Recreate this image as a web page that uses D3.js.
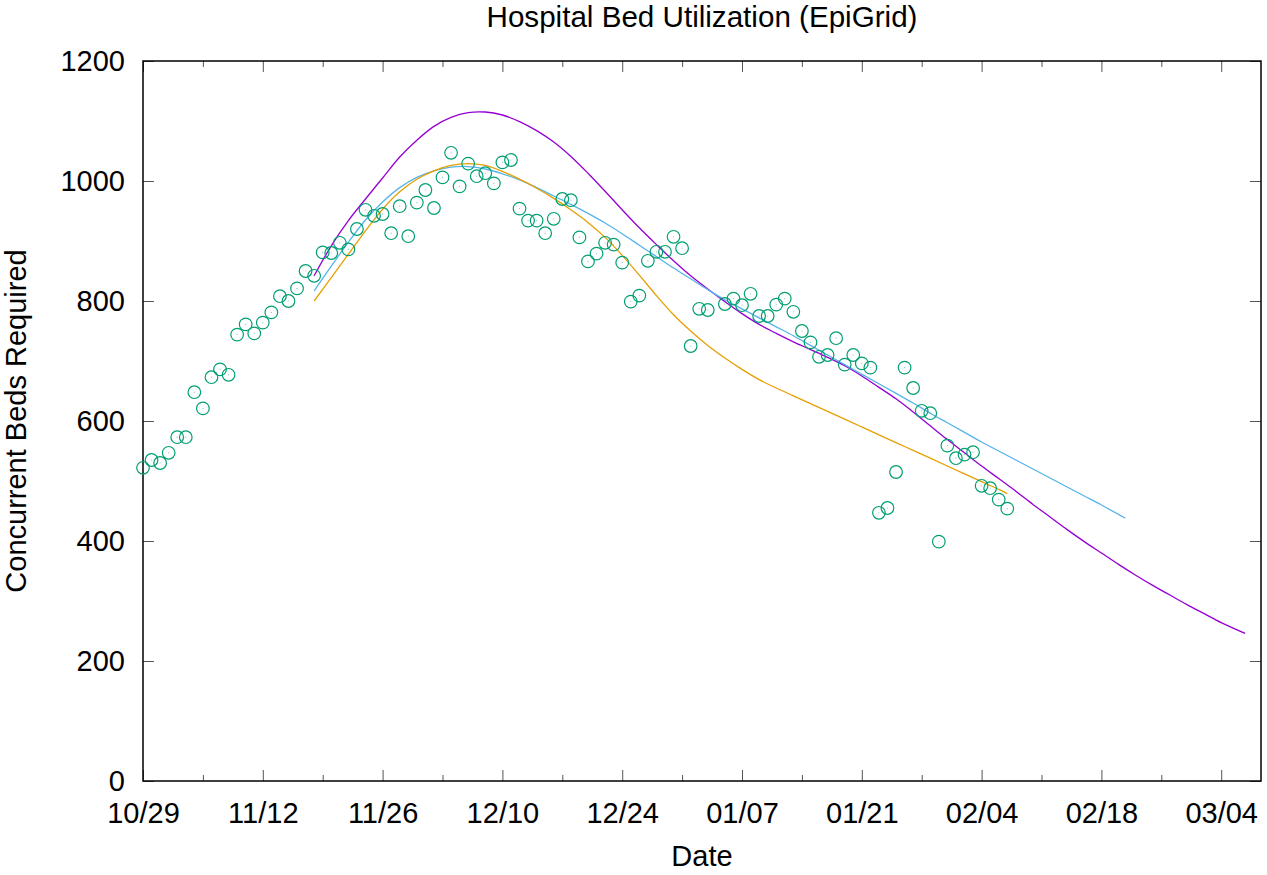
<!DOCTYPE html>
<html>
<head>
<meta charset="utf-8">
<script src="https://cdn.jsdelivr.net/npm/d3@7"></script>
<style>
  body { margin: 0; background: #fff; }
  svg { display: block; }
  text { font-family: "Liberation Sans", Arial, Helvetica, sans-serif; fill: #000; }
</style>
</head>
<body>
<svg id="chart" width="1267" height="875"></svg>
<script>
// Daily observed concurrent beds, starting 2020-10-29 (null = no report that day)
const firstDay = "2020-10-29";
const observedBeds = [
  522, 535, 530, 547, 573, 573, 648, 621, 673, 686,
  677, 744, 761, 746, 764, 781, 808, 800, 821, 850,
  842, 881, 880, 897, 886, 920, 952, 942, 945, 913,
  958, 908, 964, 985, 955, 1006, 1047, 991, 1029, 1008,
  1013, 996, 1031, 1035, 954, 934, 934, 913, 937, 970,
  968, 906, 866, 879, 897, 894, 864, 799, 809, 867,
  882, 882, 907, 888, 725, 787, 785, null, 795, 804,
  793, 812, 775, 775, 794, 804, 782, 750, 731, 707,
  710, 738, 694, 710, 696, 689, 447, 455, 515, 689,
  655, 617, 613, 399, 559, 538, 544, 548, 492, 488,
  469, 454
];

// Model projections: day offsets from firstDay and projected beds
const violetDays = [20, 22, 24, 26, 28, 30, 32, 34, 36, 38, 40, 42, 44, 46, 48, 50, 52, 54, 56, 58,
  60, 62, 64, 66, 68, 70, 72, 74, 76, 78, 80, 82, 84, 86, 88, 90, 92, 94, 96, 98,
  100, 102, 104, 106, 108, 110, 112, 114, 116, 118, 120, 122, 124, 126, 128.8];
const violetBeds = [842, 892, 934, 970, 1005, 1040, 1068, 1091, 1106, 1114, 1115, 1110, 1099, 1084, 1065, 1041, 1013, 983, 952, 922,
  894, 867, 842, 820, 799, 779, 761, 746, 732, 719, 706, 692, 675, 656, 637, 615, 592, 569, 547, 525,
  504, 483, 461, 440, 419, 399, 380, 361, 343, 326, 310, 294, 279, 264, 246];

const skyDays = [20, 22, 24, 26, 28, 30, 32, 34, 36, 38, 40, 42, 44, 46, 48, 50, 52, 54, 56, 58,
  60, 62, 64, 66, 68, 70, 72, 74, 76, 78, 80, 82, 84, 86, 88, 90, 92, 94, 96, 98,
  100, 102, 104, 106, 108, 110, 112, 114.8];
const skyBeds = [817, 858, 898, 935, 965, 989, 1006, 1017, 1023, 1024, 1020, 1012, 1002, 989, 975, 961, 946, 930, 912, 893,
  874, 855, 837, 819, 802, 787, 772, 757, 742, 726, 710, 694, 678, 662, 646, 630, 613, 597, 581, 565,
  550, 535, 520, 505, 490, 475, 460, 438];

const amberDays = [20, 22, 24, 26, 28, 30, 32, 34, 36, 38, 40, 42, 44, 46, 48, 50, 52, 54, 56, 58,
  60, 62, 64, 66, 68, 70, 72, 74, 76, 78, 80, 82, 84, 86, 88, 90, 92, 94, 96, 98,
  100, 101];
const amberBeds = [800, 839, 878, 917, 953, 982, 1003, 1017, 1026, 1029, 1026, 1016, 1003, 988, 971, 952, 931, 906, 876, 843,
  809, 777, 750, 726, 705, 686, 669, 655, 642, 629, 616, 603, 590, 577, 564, 551, 538, 525, 512, 499,
  486, 479];

// Axis ticks
const yTicks = [0, 200, 400, 600, 800, 1000, 1200];
const majorTickDays = [0, 14, 28, 42, 56, 70, 84, 98, 112, 126];
const minorTickDays = [7, 21, 35, 49, 63, 77, 91, 105, 119];

const DAY = 864e5;
const t0 = Date.parse(firstDay + "T00:00:00Z");
const toDate = d => new Date(t0 + d * DAY);

const W = 1267, H = 875;
const margin = { left: 143, right: 6, top: 61, bottom: 94 };
const innerW = W - margin.left - margin.right;
const innerH = H - margin.top - margin.bottom;

const svg = d3.select("#chart");
const g = svg.append("g").attr("transform", `translate(${margin.left},${margin.top})`);

const x = d3.scaleUtc().domain([toDate(0), toDate(130.65)]).range([0, innerW]);
const y = d3.scaleLinear().domain([0, 1200]).range([innerH, 0]);
const fmt = d3.utcFormat("%m/%d");

const tickColor = "#555";
const fontSize = 29;

// Bottom axis: labels + inward major ticks
g.append("g").attr("transform", `translate(0,${innerH})`)
  .call(d3.axisBottom(x).tickValues(majorTickDays.map(toDate)).tickFormat(fmt).tickSize(-11).tickPadding(21));
// Bottom minor ticks
g.append("g").attr("transform", `translate(0,${innerH})`)
  .call(d3.axisBottom(x).tickValues(minorTickDays.map(toDate)).tickFormat("").tickSize(-6));
// Top mirror ticks
g.append("g").call(d3.axisTop(x).tickValues(majorTickDays.map(toDate)).tickFormat("").tickSize(-11));
g.append("g").call(d3.axisTop(x).tickValues(minorTickDays.map(toDate)).tickFormat("").tickSize(-6));
// Left axis and right mirror ticks
g.append("g").call(d3.axisLeft(y).tickValues(yTicks).tickFormat(d3.format("d")).tickSize(-11).tickPadding(18));
g.append("g").attr("transform", `translate(${innerW},0)`)
  .call(d3.axisRight(y).tickValues(yTicks).tickFormat("").tickSize(-11));

g.selectAll(".domain").remove();
g.selectAll(".tick line").attr("stroke", tickColor).attr("stroke-width", 1);
g.selectAll(".tick text").attr("font-size", fontSize).attr("font-family", null).attr("fill", "#000");

// Plot border
g.append("rect").attr("x", 0).attr("y", 0).attr("width", innerW).attr("height", innerH)
  .attr("fill", "none").attr("stroke", "#000").attr("stroke-width", 1.5);

// Model curves
const line = d3.line().x(d => x(toDate(d[0]))).y(d => y(d[1])).curve(d3.curveCatmullRom.alpha(0.5));
const curves = [
  { days: violetDays, beds: violetBeds, color: "#9400d3" },
  { days: skyDays, beds: skyBeds, color: "#56b4e9" },
  { days: amberDays, beds: amberBeds, color: "#e69f00" }
];
curves.forEach(c => {
  g.append("path")
    .datum(c.days.map((d, i) => [d, c.beds[i]]))
    .attr("d", line)
    .attr("fill", "none")
    .attr("stroke", c.color)
    .attr("stroke-width", 1.3);
});

// Observed points as open circles
const pts = observedBeds.map((v, i) => ({ day: i, v })).filter(p => p.v != null);
const pg = g.append("g");
pg.selectAll("circle.obs").data(pts).join("circle")
  .attr("class", "obs")
  .attr("cx", p => x(toDate(p.day)))
  .attr("cy", p => y(p.v))
  .attr("r", 6.3)
  .attr("fill", "none")
  .attr("stroke", "#009e73")
  .attr("stroke-width", 1.2);
pg.selectAll("circle.dot").data(pts).join("circle")
  .attr("class", "dot")
  .attr("cx", p => x(toDate(p.day)))
  .attr("cy", p => y(p.v))
  .attr("r", 0.6)
  .attr("fill", "#009e73")
  .attr("opacity", 0.5);

// Titles
svg.append("text").attr("x", margin.left + innerW / 2).attr("y", 27)
  .attr("text-anchor", "middle").attr("font-size", 29.6)
  .text("Hospital Bed Utilization (EpiGrid)");
svg.append("text").attr("x", margin.left + innerW / 2).attr("y", 866)
  .attr("text-anchor", "middle").attr("font-size", fontSize)
  .text("Date");
svg.append("text").attr("transform", `translate(26,${margin.top + innerH / 2}) rotate(-90)`)
  .attr("text-anchor", "middle").attr("font-size", fontSize)
  .text("Concurrent Beds Required");
</script>
</body>
</html>
